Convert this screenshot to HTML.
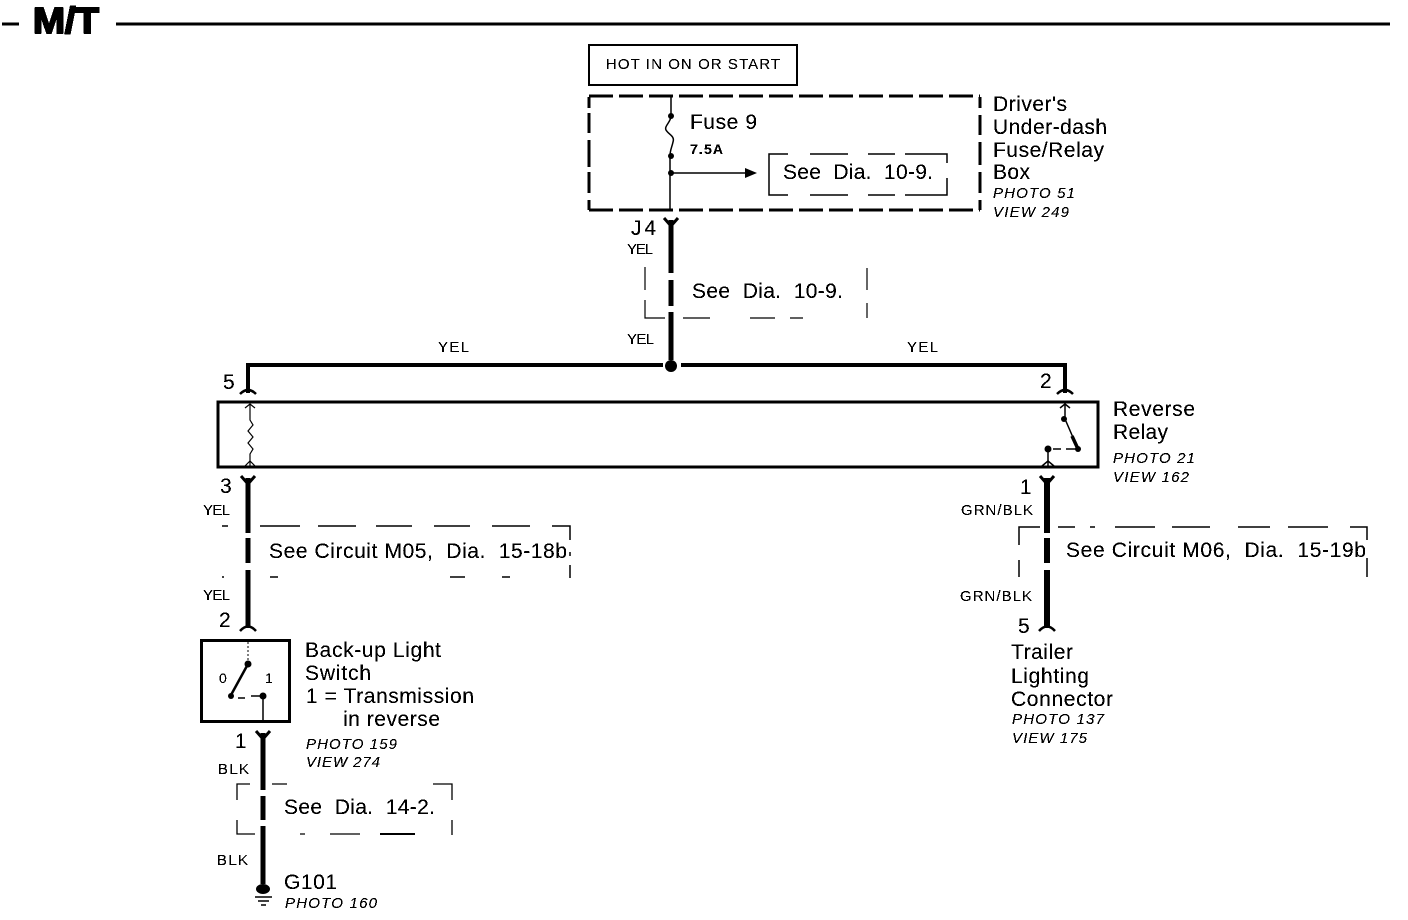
<!DOCTYPE html>
<html><head><meta charset="utf-8"><style>
html,body{margin:0;padding:0;background:#fff}
svg{display:block}
text{font-family:"Liberation Sans",sans-serif;fill:#000;white-space:pre}
.l{font-size:21px}.s{font-size:15px}.i{font-size:15px;font-style:italic}
</style></head><body>
<svg width="1408" height="920" viewBox="0 0 1408 920" xmlns="http://www.w3.org/2000/svg">
<defs><filter id="b" x="0" y="0" width="100%" height="100%" filterUnits="objectBoundingBox" color-interpolation-filters="sRGB"><feComponentTransfer><feFuncA type="discrete" tableValues="0 1 1"/></feComponentTransfer></filter></defs>
<g fill="none" stroke="#000" stroke-linecap="butt">
<!-- header -->
<path d="M2 24H19M116 24H1390" stroke-width="3"/>
<!-- hot box -->
<rect x="589" y="45" width="208" height="40" stroke-width="2"/>
<!-- fuse box dashed -->
<path d="M589 96H980" stroke-width="3" stroke-dasharray="24 6"/>
<path d="M589 210H980" stroke-width="3" stroke-dasharray="24 6"/>
<path d="M589 97V108M589 113V133M589 140V167M589 172V193M589 200V210" stroke-width="3"/>
<path d="M980 97V108M980 115V135M980 142V165M980 172V193M980 200V210" stroke-width="3"/>
<!-- fuse -->
<path d="M671 96V116C671 122 664 126 666 130C669 135 675 136 673 142C672 147 670 150 670 156V210" stroke-width="1.5"/>
<path d="M671 173H745" stroke-width="1.5"/>
<!-- see box 10-9 inner -->
<path d="M788 154H769V195H788M810 154H848M868 154H895M905 154H947V163M947 178V195H905M895 195H868M848 195H810" stroke-width="1.5"/>
<!-- wires -->
<path d="M671 220V273M671 280V306M671 312V360" stroke-width="5"/>
<path d="M248 393V365H663M681 365H1065V393" stroke-width="4"/>
<!-- relay box -->
<rect x="218" y="402" width="880" height="65" stroke-width="3"/>
<path d="M248 478V533M248 538V563M248 570V628" stroke-width="5"/>
<path d="M1047 478V533M1047 538V563M1047 570V628" stroke-width="6"/>
<path d="M263 733V790M263 796V820M263 826V884" stroke-width="5"/>
<!-- connector forks -->
<path d="M664 218L671 226L678 218" stroke-width="3"/>
<path d="M240 394Q248 386 256 394M1057 394Q1065 386 1073 394M240 631Q248 622 256 631M1039 631Q1047 622 1055 631" stroke-width="2.5"/>
<path d="M241 476L248 484L255 476M1040 476L1047 484L1054 476M256 731L263 739L270 731" stroke-width="3"/>
<!-- coil -->
<path d="M250 404V420L253 425L248 431L253 437L248 443L253 449L250 454V466" stroke-width="1.2"/>
<path d="M245 408L250 404L255 408M245 466L250 461L255 466" stroke-width="1.2"/>
<!-- relay contact -->
<path d="M1065 404V419L1078 449" stroke-width="1.5"/>
<path d="M1072 436L1078 449" stroke-width="3.5"/>
<path d="M1048 449V467M1053 449H1061M1066 449H1078" stroke-width="1.5"/>
<path d="M1060 408L1065 404L1070 408M1042 466L1048 461L1054 466" stroke-width="1.5"/>
<!-- switch -->
<rect x="201.5" y="640.5" width="88" height="81" stroke-width="3"/>
<path d="M248 642V664" stroke-width="1" stroke-dasharray="2 2"/>
<path d="M248 664L231 695" stroke-width="2.5"/>
<path d="M238 698H245M251 696H262" stroke-width="1.5"/>
<path d="M263 695V721" stroke-width="1.5"/>
<!-- see middle -->
<path d="M645 267V290M645 300V318H665M683 318H710M750 318H775M790 318H803M867 268V290M867 303V318" stroke-width="1.2"/>
<!-- see M05 -->
<path d="M260 526H300M318 526H356M376 526H412M434 526H470M492 526H530M552 526H570V540M570 552V556M570 565V578M270 577H278M450 577H465M502 577H510M222 526H228M222 577H224" stroke-width="1.5"/>
<!-- see M06 -->
<path d="M1019 545V527H1040M1058 527H1075M1090 527H1095M1115 527H1155M1172 527H1210M1238 527H1270M1288 527H1328M1350 527H1367V540M1367 558V577M1019 560V577" stroke-width="1.5"/>
<!-- see 14-2 -->
<path d="M237 800V784H250M272 784H287M433 784H452V800M452 820V835M237 820V834H255M300 834H305M330 834H360" stroke-width="1.3"/>
<path d="M380 834H415" stroke-width="2"/>
<!-- ground -->
<path d="M255 897H272M258 901H269M261 905H266" stroke-width="1.5"/>
</g>
<g fill="#000">
<circle cx="671" cy="366" r="6"/>
<circle cx="671" cy="116" r="3"/><circle cx="671" cy="156" r="3"/><circle cx="671" cy="173" r="3"/>
<path d="M745 168L757 173L745 178Z"/>
<circle cx="1064" cy="419" r="3"/><circle cx="1048" cy="449" r="3.5"/><circle cx="1078" cy="449" r="3"/>
<circle cx="248" cy="664" r="3.5"/><circle cx="231" cy="696" r="3"/><circle cx="263" cy="696" r="3.5"/>
<ellipse cx="263" cy="889" rx="7" ry="5"/>
</g>
<g fill="#000" filter="url(#b)">
<text x="33" y="33" font-size="36" textLength="66" lengthAdjust="spacingAndGlyphs" stroke="#000" stroke-width="1.6" style="font-weight:bold">M/T</text>
<text class="s" x="606" y="69" textLength="174">HOT IN ON OR START</text>
<text class="l" x="993" y="111" textLength="74">Driver's</text>
<text class="l" x="993" y="134" textLength="114">Under-dash</text>
<text class="l" x="993" y="157" textLength="111">Fuse/Relay</text>
<text class="l" x="993" y="179" textLength="37">Box</text>
<text class="i" x="993" y="198" textLength="82">PHOTO 51</text>
<text class="i" x="993" y="217" textLength="76">VIEW 249</text>
<text class="l" x="690" y="129" textLength="67">Fuse 9</text>
<text x="690" y="154" font-size="14" style="font-weight:bold" textLength="33">7.5A</text>
<text class="l" x="783" y="179" textLength="150">See  Dia.  10-9.</text>
<text class="l" x="631" y="235" textLength="25">J4</text>
<text class="s" x="627" y="254" textLength="26">YEL</text>
<text class="l" x="692" y="298" textLength="151">See  Dia.  10-9.</text>
<text class="s" x="627" y="344" textLength="27">YEL</text>
<text class="s" x="438" y="352" textLength="31">YEL</text>
<text class="s" x="907" y="352" textLength="31">YEL</text>
<text class="l" x="223" y="389" textLength="13">5</text>
<text class="l" x="1040" y="388" textLength="13">2</text>
<text class="l" x="1113" y="416" textLength="82">Reverse</text>
<text class="l" x="1113" y="439" textLength="55">Relay</text>
<text class="i" x="1113" y="463" textLength="82">PHOTO 21</text>
<text class="i" x="1113" y="482" textLength="76">VIEW 162</text>
<text class="l" x="220" y="493" textLength="13">3</text>
<text class="s" x="203" y="515" textLength="27">YEL</text>
<text class="l" x="269" y="558" textLength="298">See Circuit M05,  Dia.  15-18b</text>
<text class="s" x="203" y="600" textLength="27">YEL</text>
<text class="l" x="219" y="627" textLength="13">2</text>
<text class="l" x="1020" y="494" textLength="11">1</text>
<text class="s" x="961" y="515" textLength="72">GRN/BLK</text>
<text class="l" x="1066" y="557" textLength="300">See Circuit M06,  Dia.  15-19b</text>
<text class="s" x="960" y="601" textLength="72">GRN/BLK</text>
<text class="l" x="1018" y="633" textLength="13">5</text>
<text class="l" x="1011" y="659" textLength="62">Trailer</text>
<text class="l" x="1011" y="683" textLength="78">Lighting</text>
<text class="l" x="1011" y="706" textLength="102">Connector</text>
<text class="i" x="1012" y="724" textLength="92">PHOTO 137</text>
<text class="i" x="1012" y="743" textLength="75">VIEW 175</text>
<text class="l" x="305" y="657" textLength="136">Back-up Light</text>
<text class="l" x="305" y="680" textLength="66">Switch</text>
<text class="l" x="306" y="703" textLength="168">1 = Transmission</text>
<text class="l" x="343" y="726" textLength="97">in reverse</text>
<text class="i" x="306" y="749" textLength="91">PHOTO 159</text>
<text class="i" x="306" y="767" textLength="74">VIEW 274</text>
<text x="219" y="683" font-size="14" textLength="9">0</text>
<text x="265" y="683" font-size="14" textLength="7">1</text>
<text class="l" x="235" y="748" textLength="11">1</text>
<text class="s" x="218" y="774" textLength="31">BLK</text>
<text class="l" x="284" y="814" textLength="151">See  Dia.  14-2.</text>
<text class="s" x="217" y="865" textLength="31">BLK</text>
<text class="l" x="284" y="889" textLength="53">G101</text>
<text class="i" x="285" y="908" textLength="92">PHOTO 160</text>
</g>
</svg>
</body></html>
